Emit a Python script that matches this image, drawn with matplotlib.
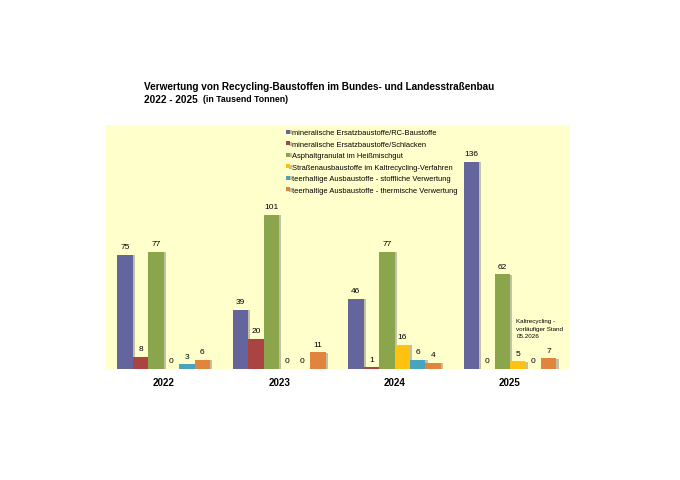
import matplotlib.pyplot as plt
import matplotlib.patheffects as pe
import numpy as np

plt.rcParams['font.family'] = ['Liberation Sans', 'DejaVu Sans']

years = ['2022', '2023', '2024', '2025']
series = [
    'mineralische Ersatzbaustoffe/RC-Baustoffe',
    'mineralische Ersatzbaustoffe/Schlacken',
    'Asphaltgranulat im Heißmischgut',
    'Straßenausbaustoffe im Kaltrecycling-Verfahren',
    'teerhaltige Ausbaustoffe - stoffliche Verwertung',
    'teerhaltige Ausbaustoffe - thermische Verwertung',
]
rc_baustoffe = [75, 39, 46, 136]
schlacken = [8, 20, 1, 0]
asphaltgranulat = [77, 101, 77, 62]
kaltrecycling = [0, 0, 16, 5]
teer_stofflich = [3, 0, 6, 0]
teer_thermisch = [6, 11, 4, 7]
values = [rc_baustoffe, schlacken, asphaltgranulat, kaltrecycling, teer_stofflich, teer_thermisch]
colors = ['#65659e', '#a94443', '#8aa54c', '#ffc20e', '#4aa3bd', '#e0843e']

fig = plt.figure(figsize=(6.8, 4.81), dpi=100)
ax = fig.add_axes([106 / 680, 111 / 481, 464 / 680, 244 / 481])
ax.set_facecolor('#ffffcc')

x = np.arange(len(years))
w = 0.134
shadow = [pe.SimplePatchShadow(offset=(1.6, -0.3), shadow_rgbFace='#777777', alpha=0.45), pe.Normal()]
for i, (name, vals, c) in enumerate(zip(series, values, colors)):
    pos = x + (i - 2.5) * w
    bars = ax.bar(pos, vals, width=w, color=c, label=name, zorder=2)
    for b in bars:
        b.set_path_effects(shadow)
    for p, v in zip(pos, vals):
        ax.text(p, v + 3, str(v), ha='center', va='bottom', fontsize=6)

ax.set_xlim(-0.5, 3.52)
ax.set_ylim(0, 160)
ax.set_yticks([])
ax.set_xticks(x)
ax.set_xticklabels(years, fontsize=7, fontweight='bold')
ax.tick_params(axis='x', length=0, pad=6)
for s in ax.spines.values():
    s.set_visible(False)

leg = ax.legend(loc='upper left', bbox_to_anchor=(0.379, 1.0), fontsize=5.4, frameon=False,
                handlelength=0.5, handleheight=0.5, handletextpad=0.3, labelspacing=0.6,
                borderaxespad=0.2)

# Hinweis zum Kaltrecycling 2025
ax.text(3.055, 20, 'Kaltrecycling -\nvorläufiger Stand\n05.2026', fontsize=4.5,
        ha='left', va='bottom', linespacing=1.7)

fig.text(144 / 680, 1 - 87 / 481, 'Verwertung von Recycling-Baustoffen im Bundes- und Landesstraßenbau',
         fontsize=7.2, fontweight='bold', va='center')
fig.text(144 / 680, 1 - 100 / 481, '2022 - 2025', fontsize=7.2, fontweight='bold', va='center')
fig.text(203 / 680, 1 - 100 / 481, '(in Tausend Tonnen)', fontsize=6.3, fontweight='bold', va='center')

fig.savefig('out.png', dpi=100)
